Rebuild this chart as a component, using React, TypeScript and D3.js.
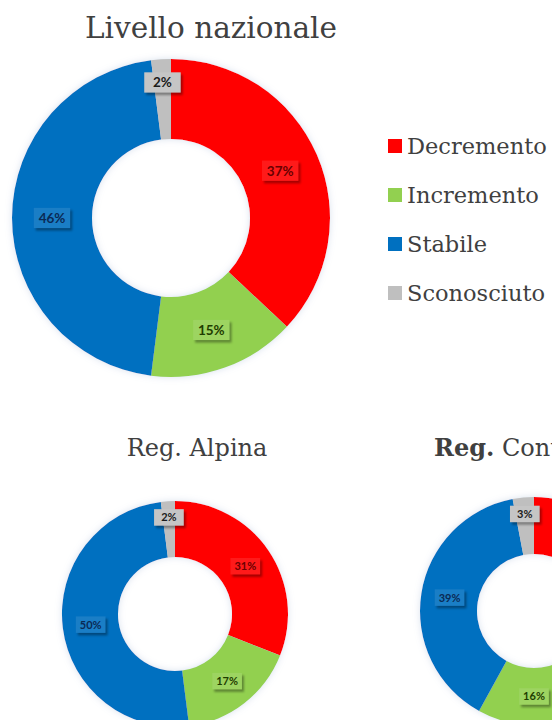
import React from "react";
import * as d3 from "d3";

const categories = ["Decremento", "Incremento", "Stabile", "Sconosciuto"];
const colors = ["#ff0000", "#92d050", "#0070c0", "#bfbfbf"];
const labelColors = ["#6a0000", "#1f3d00", "#0a2a55", "#1a1a1a"];
const nazionale = [37, 15, 46, 2];
const alpina = [31, 17, 50, 2];
const continentale = [42, 16, 39, 3];

type DonutProps = { values: number[]; cx: number; cy: number; outer: number; inner: number; fs: number };

function Donut({ values, cx, cy, outer, inner, fs }: DonutProps) {
  const pie = d3.pie<number>().sort(null).value((d) => d)(values);
  const arc = d3.arc<d3.PieArcDatum<number>>().innerRadius(inner).outerRadius(outer);
  const bw = fs * 2.7;
  const bh = fs * 1.5;
  return (
    <g transform={`translate(${cx},${cy})`}>
      <g filter="url(#glow)">
        {pie.map((p, i) => (
          <path key={i} d={arc(p) || ""} fill={colors[i]} />
        ))}
      </g>
      {pie.map((p, i) => {
        const mid = (p.startAngle + p.endAngle) / 2;
        const small = p.data < 5;
        const r = (inner + outer) / 2 + (small ? (outer - inner) * 0.21 : 0);
        const x = r * Math.sin(mid);
        const y = -r * Math.cos(mid);
        return (
          <g key={"l" + i} transform={`translate(${x},${y})`}>
            <rect x={-bw / 2 + 2} y={-bh / 2 + 2.5} width={bw} height={bh} fill="#000" opacity={0.35} filter="url(#lblshadow)" />
            <rect x={-bw / 2} y={-bh / 2} width={bw} height={bh} fill={colors[i]} />
            <rect x={-bw / 2} y={-bh / 2} width={bw} height={bh} fill="#fff" opacity={0.1} />
            <text
              textAnchor="middle"
              dy="0.36em"
              fontFamily="Lato, 'Open Sans', sans-serif"
              fontWeight={700}
              fontSize={fs}
              fill={labelColors[i]}
            >
              {p.data}%
            </text>
          </g>
        );
      })}
    </g>
  );
}

export default function App() {
  const serif = "'DejaVu Serif', serif";
  return (
    <div style={{ position: "absolute", left: 0, top: 0 }}>
      <svg width={552} height={720} style={{ display: "block", background: "#fff" }}>
        <defs>
          <filter id="glow" x="-20%" y="-20%" width="140%" height="140%">
            <feGaussianBlur in="SourceAlpha" stdDeviation="3.5" result="b" />
            <feFlood floodColor="#b3c4dc" floodOpacity="0.5" />
            <feComposite in2="b" operator="in" result="g" />
            <feMerge>
              <feMergeNode in="g" />
              <feMergeNode in="SourceGraphic" />
            </feMerge>
          </filter>
          <filter id="lblshadow" x="-30%" y="-50%" width="160%" height="200%">
            <feGaussianBlur stdDeviation="1.2" />
          </filter>
        </defs>

        <text x={211} y={38} textAnchor="middle" fontFamily={serif} fontSize={29.5} fill="#404040">
          Livello nazionale
        </text>
        <Donut values={nazionale} cx={171} cy={218} outer={159} inner={79} fs={13.5} />

        {categories.map((c, i) => (
          <g key={c} transform={`translate(388,${146 + i * 49})`}>
            <rect x={0} y={-7} width={14} height={14} fill={colors[i]} />
            <text x={19} y={7.5} fontFamily={serif} fontSize={22.5} fill="#404040">
              {c}
            </text>
          </g>
        ))}

        <text x={197} y={456} textAnchor="middle" fontFamily={serif} fontSize={24} fill="#404040">
          Reg. Alpina
        </text>
        <Donut values={alpina} cx={175} cy={614} outer={113} inner={57} fs={11} />

        <text x={434} y={456} fontFamily={serif} fontSize={24} fill="#404040">
          <tspan fontWeight={700}>Reg.</tspan> Continentale
        </text>
        <Donut values={continentale} cx={534} cy={611} outer={114} inner={57} fs={11} />
      </svg>
    </div>
  );
}
